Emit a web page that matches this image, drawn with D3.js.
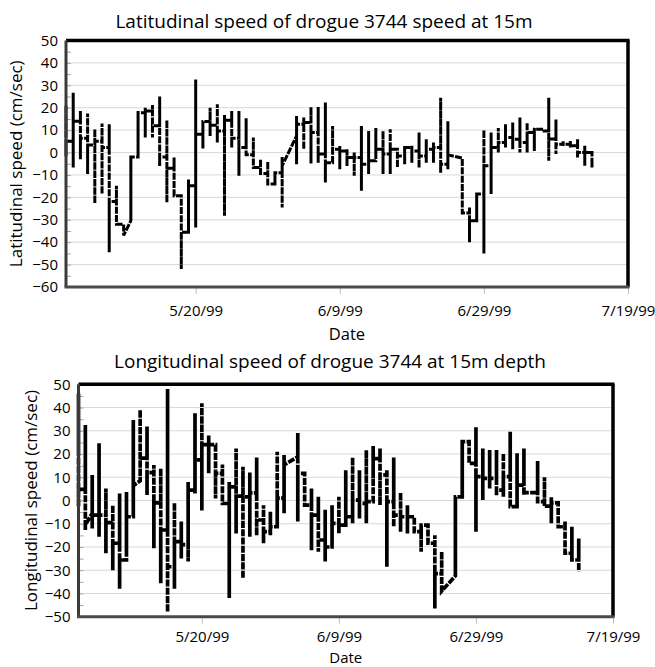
<!DOCTYPE html>
<html>
<head>
<meta charset="utf-8">
<script src="https://cdn.jsdelivr.net/npm/d3@7"></script>
<style>
  body { margin: 0; background: #fff; }
  text { font-family: "Open Sans", sans-serif; fill: #000; }
</style>
</head>
<body>
<div id="chart"></div>
<script>
// day offsets from 5/2/99, one entry per day of readings (gaps = missing days)
var latDay   = [0,1,2,3,4,5,6,7,8,9,10,11,12,13,14,15,16,17,18,19,20,21,22,23,24,25,26,27,28,29,30,32,33,34,35,36,37,38,39,40,41,42,43,44,45,46,47,48,49,50,51,52,53,55,56,57,58,59,60,61,62,63,64,65,66,67,68,69,70,71,72,73];
var latOpen  = [10,5,14,6.4,3.4,5,2.2,-21.8,-32,-30.4,-2,17.8,18.5,12,-2,-7,-19.3,-35.6,-14.8,8.2,13.8,12.2,9.6,14.4,6.4,2.2,-1,-6.7,-9.3,-14,-9,7.4,12.6,13.4,8.9,-0.7,-4.5,1.5,0.7,-2.2,-2.2,-5.2,-3.7,1.5,-0.7,1.5,-1.5,2.2,0.7,-1.5,1.5,2.2,-5.2,-2.5,-27,-30.4,-18.5,-5.9,2.2,4.5,6.7,5.9,4.5,8.9,10.4,9.6,6,3.7,3.7,3,0,0];
var latHigh  = [21,26.7,18.5,17.4,10.4,13,12.6,-14.8,-32,-1.9,18.5,20,21.2,25,14.4,-2.2,-19.3,-12,32.6,14,20,21.5,16.8,18.5,18.5,15.3,6.7,-3,-4,-9,-2,16.3,15.6,20.3,20.3,22.3,11.9,3,1.5,0,11.9,9.6,11,9.6,10.4,0.7,2.2,3,8.9,5.9,4.5,24.5,14,-2.5,-24.5,-18.5,10,8.9,11,12.6,13.4,15.6,13.4,11,10.4,24.5,14.8,5.2,5.2,5.9,3,0.7];
var latLow   = [-1.5,-6.7,-3,-9.6,-22.7,-18.5,-44.5,-31.6,-37,-30.4,-2,6.7,6.7,-6,-22.3,-19.3,-52,-35.6,-33.4,1.8,7.4,4.5,-28.2,2.2,-10.4,-0.7,-6.7,-9,-14,-14,-24.5,-5.2,1.5,-4.9,-4.5,-13.4,0.7,-7.4,-6,-10.4,-17,-9.6,-1.5,-9.6,-9.6,-6.7,-5.2,-4.5,-6.7,-4.5,-4.5,-9,-7.4,-27,-40,-30.4,-45,-18.5,0,2.2,1.5,0,0,0.7,9.6,-3.7,-0.7,2.9,2.2,-2.2,-5.9,-6.7];
var latClose = [5,14,6.4,3.4,5,2.2,-21.8,-32,-37,-2,17.8,18.5,12,-2,-7,-19.3,-35.6,-14.8,8.2,13.8,12.2,9.6,14.4,6.4,2.2,-1,-6.7,-9.3,-14,-9,-5.9,12.6,13.4,8.9,-0.7,-4.5,1.5,0.7,-2.2,-2.2,-5.2,-3.7,1.5,-0.7,1.5,-1.5,2.2,0.7,-1.5,1.5,2.2,-5.2,-1,-27,-30.4,-18.5,-5.9,2.2,4.5,6.7,5.9,4.5,8.9,10.4,9.6,6,3.7,3.7,3,0,0,-3];

var lonDay   = [0,1,2,3,4,5,6,7,8,9,10,11,12,13,14,15,16,17,18,19,20,21,22,23,24,25,26,27,28,29,30,32,33,34,35,36,37,38,39,40,41,42,43,44,45,46,47,48,49,50,51,52,53,55,56,57,58,59,60,61,62,63,64,65,66,67,68,69,70,71,72,73];
var lonOpen  = [20,4.8,-5.5,-6.3,-6.3,-9.5,-18.4,-25.6,-7,8.5,18.2,12,-1,-12.7,-28.5,-17.7,-19,4.5,17.5,24,24,11.7,-1.3,5.9,1.9,1.6,3.3,-8.4,-13.4,-11.3,1,18.8,11.7,-2,-6.3,-17,-20,-9.8,-10.6,-7,0.2,-1.2,-0.5,18,11,-0.5,-6.3,-7,-7,-13.4,-10.6,-18.4,-31.5,-32.4,1.6,25.3,16,10.3,9.5,9.5,4.5,10.3,-2.6,6.6,3.4,3.4,-0.5,-2.4,-1,-11.3,-22.7,-25.6];
var lonHigh  = [46,32.5,11,24.6,5.2,-2,3,3.7,34.6,39,31.8,15.3,13.8,48,-1,-9,8,37.5,41.8,28,24,15.5,8,22.4,14.5,12,18.5,-2,-4.8,21,19.6,29,11,5.2,1.6,-4,-2,1.6,13,18.5,13,21.7,23.4,22.4,13,18.5,3.4,-2,-7,-10.6,-12,-15,-22,1.6,25.3,25.3,31.5,22.4,21.7,21.7,20.3,29.6,20.3,22.4,3.4,17,10,1.6,-1,-9,-11.3,-16.3];
var lonLow   = [-2.6,-12.7,-12,-15.6,-22.7,-30,-38,-24,-5.5,8.5,2.4,-20.6,-35.6,-48,-38,-25,-26.3,3,-4.3,11.7,0.9,-1.3,-42,-14.2,-33.5,-15.6,-15,-18.4,-15,-10.6,-5.5,-9,-2,-21.4,-22,-26.3,-20.6,-14.2,-10.6,-9.8,-7.7,-9.8,9.5,-2,-28.5,-11.3,-13.4,-14.2,-13.4,-22,-17.7,-46.5,-39,-32.4,1.6,16,-13.4,0.2,5.2,2.3,1.6,-2.6,-2.6,2.3,3.4,-0.5,-2.6,-9.8,-11.3,-22.7,-25.6,-30.5];
var lonClose = [4.8,-10.5,-6.3,-6.3,-9.5,-18.4,-25.6,-7,6.4,18.2,12,-1,-12.7,-28.5,-17.7,-19,4.5,17.5,24,24,11.7,-1.3,5.9,1.9,1.6,3.3,-8.4,-13.4,-11.3,1,15.3,11.7,-2,-6.3,-17,-20,-9.8,-10.6,-7,0.2,-1.2,-0.5,18,11,-0.5,-6.3,-7,-7,-13.4,-10.6,-18.4,-31.5,-39,1.6,25.3,16,10.3,9.5,9.5,4.5,10.3,-2.6,6.6,3.4,3.4,-0.5,-2.4,-1,-11.3,-22.7,-25.6,-30.5];

var dateTicks = ["1999-05-20", "1999-06-09", "1999-06-29", "1999-07-19"];
var latYTicks = [50, 40, 30, 20, 10, 0, -10, -20, -30, -40, -50, -60];
var lonYTicks = [50, 40, 30, 20, 10, 0, -10, -20, -30, -40, -50];

var startDate = new Date(1999, 4, 2);
var endDate = new Date(1999, 6, 19);
var parse = d3.timeParse("%Y-%m-%d");
var fmt = d3.timeFormat("%-m/%-d/%y");

var svg = d3.select("#chart").append("svg")
    .attr("width", 655)
    .attr("height", 667);

function series(days, open, high, low, close) {
    var pts = [];
    days.forEach(function(d, i) {
        var t = d3.timeDay.offset(startDate, d);
        pts.push([t, open[i]], [t, high[i]], [t, low[i]], [t, close[i]]);
    });
    return pts;
}

function panel(cfg) {
    var x = d3.scaleTime().domain([startDate, endDate]).range([cfg.left, cfg.right]);
    var y = d3.scaleLinear().domain([cfg.ymin, cfg.ymax]).range([cfg.bottom, cfg.top]);
    var g = svg.append("g");

    // gridlines
    g.append("g")
        .selectAll("line")
        .data(cfg.yTicks.slice(1, -1))
        .enter().append("line")
        .attr("x1", cfg.left).attr("x2", cfg.right)
        .attr("y1", function(d) { return y(d); })
        .attr("y2", function(d) { return y(d); })
        .attr("stroke", "#d9d9d9")
        .attr("stroke-width", 1);

    // small inside ticks on the value axis (every 5)
    var minor = d3.axisRight(y).ticks((cfg.ymax - cfg.ymin) / 5).tickSize(4).tickFormat("");
    var mi = g.append("g").attr("transform", "translate(" + (cfg.left + 1) + ",0)").call(minor);
    mi.select(".domain").remove();
    mi.selectAll(".tick line").attr("stroke", "#a6a6a6");

    // y tick labels
    var yAxis = d3.axisLeft(y).tickValues(cfg.yTicks).tickSize(0).tickPadding(0);
    var ya = g.append("g")
        .attr("transform", "translate(" + (cfg.left - 8) + ",0)")
        .call(yAxis);
    ya.select(".domain").remove();
    ya.selectAll("text").style("font-size", "15px").style("font-family", "Open Sans");

    // x axis ticks + labels
    var xAxis = d3.axisBottom(x)
        .tickValues(dateTicks.map(parse))
        .tickFormat(fmt)
        .tickSize(7)
        .tickPadding(cfg.xPad);
    var xa = g.append("g")
        .attr("transform", "translate(0," + cfg.bottom + ")")
        .call(xAxis);
    xa.select(".domain").remove();
    xa.selectAll(".tick line").attr("stroke", "#bfbfbf");
    xa.selectAll("text").style("font-size", "15px").style("font-family", "Open Sans");

    // data
    var clipId = "clip" + cfg.id;
    svg.append("clipPath").attr("id", clipId)
        .append("rect")
        .attr("x", cfg.left - 3).attr("y", cfg.top)
        .attr("width", cfg.right - cfg.left + 3).attr("height", cfg.bottom - cfg.top);

    var line = d3.line()
        .x(function(d) { return x(d[0]); })
        .y(function(d) { return y(d[1]); });

    g.append("path")
        .datum(cfg.points)
        .attr("clip-path", "url(#" + clipId + ")")
        .attr("d", line)
        .attr("fill", "none")
        .attr("stroke", "#000")
        .attr("stroke-width", cfg.lineW)
        .attr("stroke-dasharray", "7,1.3")
        .attr("stroke-linejoin", "miter");

    // frame: top/right black, left/bottom dark grey
    g.append("line").attr("x1", cfg.left).attr("x2", cfg.right + 1.5)
        .attr("y1", cfg.top).attr("y2", cfg.top)
        .attr("stroke", "#000").attr("stroke-width", 3.5);
    g.append("line").attr("x1", cfg.right).attr("x2", cfg.right)
        .attr("y1", cfg.top).attr("y2", cfg.bottom)
        .attr("stroke", "#000").attr("stroke-width", 3.5);
    g.append("line").attr("x1", cfg.left).attr("x2", cfg.left)
        .attr("y1", cfg.top).attr("y2", cfg.bottom)
        .attr("stroke", "#3a3a3a").attr("stroke-width", 3);
    g.append("line").attr("x1", cfg.left - 1.5).attr("x2", cfg.right + 1.5)
        .attr("y1", cfg.bottom).attr("y2", cfg.bottom)
        .attr("stroke", "#4a4a4a").attr("stroke-width", 3);

    // titles
    g.append("text")
        .attr("x", cfg.titleX).attr("y", cfg.titleY)
        .attr("text-anchor", "middle")
        .style("font-size", "19px")
        .text(cfg.title);
    g.append("text")
        .attr("x", (cfg.left + cfg.right) / 2).attr("y", cfg.dateY)
        .attr("text-anchor", "middle")
        .style("font-size", cfg.dateSize)
        .text("Date");
    g.append("text")
        .attr("transform", "translate(" + cfg.ylabX + "," + ((cfg.top + cfg.bottom) / 2) + ") rotate(-90)")
        .attr("text-anchor", "middle")
        .style("font-size", "17px")
        .text(cfg.ylab);
}

panel({
    id: 1, left: 66, right: 628, top: 40.5, bottom: 287,
    ymin: -60, ymax: 50, yTicks: latYTicks, xPad: 11, lineW: 3,
    points: series(latDay, latOpen, latHigh, latLow, latClose),
    title: "Latitudinal speed of drogue 3744 speed at 15m",
    titleX: 324, titleY: 28, dateY: 340, dateSize: "16.5px", ylabX: 22,
    ylab: "Latitudinal speed (cm/sec)"
});

panel({
    id: 2, left: 78.5, right: 613, top: 384.3, bottom: 616.7,
    ymin: -50, ymax: 50, yTicks: lonYTicks, xPad: 8, lineW: 3.7,
    points: series(lonDay, lonOpen, lonHigh, lonLow, lonClose),
    title: "Longitudinal speed of drogue 3744 at 15m depth",
    titleX: 330, titleY: 368, dateY: 662.5, dateSize: "15px", ylabX: 37,
    ylab: "Longitudinal speed (cm/sec)"
});
</script>
</body>
</html>
